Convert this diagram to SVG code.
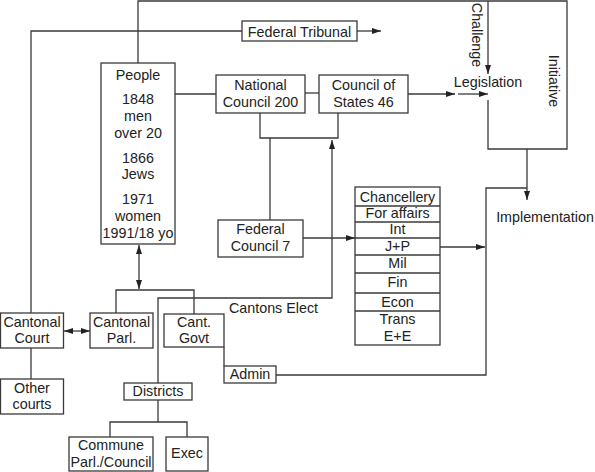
<svg xmlns="http://www.w3.org/2000/svg" width="595" height="472" viewBox="0 0 595 472">
<defs>
<marker id="ah" markerUnits="userSpaceOnUse" markerWidth="10" markerHeight="7" refX="9" refY="3.5" orient="auto-start-reverse"><path d="M0,0.5 L9,3.5 L0,6.5 z" fill="#222"/></marker>
<style>
rect{fill:#fff;stroke:#3a3a3a;stroke-width:1.3}
.c{fill:none;stroke:#3a3a3a;stroke-width:1.3}
.a{marker-end:url(#ah)}
.d{marker-start:url(#ah);marker-end:url(#ah)}
text{font-family:"Liberation Sans",Arial,sans-serif;font-size:14.3px;fill:#222;text-anchor:middle}
</style>
</defs>
<rect x="0" y="0" width="595" height="472" style="fill:#fff;stroke:none"/>
<g id="connectors">
<polyline class="c" points="138,63 138,1 567,1 567,149 488,149 488,100"/>
<line class="c a" x1="488" y1="1" x2="488" y2="74"/>
<polyline class="c" points="31,313 31,31 242,31"/>
<line class="c a" x1="357" y1="31" x2="381" y2="31"/>
<line class="c" x1="175" y1="94" x2="216" y2="94"/>
<line class="c" x1="305" y1="93" x2="319" y2="93"/>
<line class="c a" x1="408" y1="94" x2="455" y2="94"/>
<line class="c a" x1="458" y1="94" x2="488" y2="94"/>
<polyline class="c" points="260,113 260,138 338,138 338,113"/>
<line class="c" x1="270" y1="138" x2="270" y2="220"/>
<polyline class="c a" points="158,383 158,298 332,298 332,140"/>
<line class="c a" x1="303" y1="238" x2="355" y2="238"/>
<line class="c a" x1="440" y1="247" x2="485" y2="247"/>
<line class="c a" x1="527" y1="149" x2="527" y2="200"/>
<polyline class="c" points="527,188 486,188 486,375 276,375"/>
<line class="c d" x1="139" y1="245" x2="139" y2="289"/>
<polyline class="c" points="116,313 116,290 194,290 194,314"/>
<line class="c d" x1="64" y1="331" x2="90" y2="331"/>
<line class="c" x1="31" y1="348" x2="31" y2="379"/>
<line class="c" x1="224" y1="347" x2="224" y2="366"/>
<line class="c" x1="158" y1="400" x2="158" y2="422"/>
<polyline class="c" points="110,437 110,422 187,422 187,437"/>
</g>
<g id="people"><rect x="101" y="63" width="74" height="181"/>
<text x="138" y="80">People</text><text x="138" y="104">1848</text><text x="138" y="121">men</text><text x="138" y="138">over 20</text>
<text x="138" y="163">1866</text><text x="138" y="179">Jews</text><text x="138" y="204">1971</text><text x="138" y="221">women</text><text x="138" y="238">1991/18 yo</text></g>
<g id="federal-tribunal"><rect x="242" y="21" width="115" height="20"/><text x="299.5" y="37">Federal Tribunal</text></g>
<g id="national-council"><rect x="216" y="75" width="89" height="38"/><text x="260.5" y="90">National</text><text x="260.5" y="107">Council 200</text></g>
<g id="council-of-states"><rect x="319" y="75" width="89" height="38"/><text x="363.5" y="90">Council of</text><text x="363.5" y="107">States 46</text></g>
<g id="legislation"><text x="488" y="87">Legislation</text></g>
<g id="challenge"><text transform="translate(477,35) rotate(90)" y="5">Challenge</text></g>
<g id="initiative"><text transform="translate(554,81) rotate(90)" y="5">Initiative</text></g>
<g id="federal-council"><rect x="218" y="220" width="85" height="37"/><text x="260.5" y="234">Federal</text><text x="260.5" y="251">Council 7</text></g>
<g id="departments"><rect x="355" y="187" width="85" height="158"/>
<line class="c" x1="355" y1="206" x2="440" y2="206"/><line class="c" x1="355" y1="222" x2="440" y2="222"/><line class="c" x1="355" y1="238" x2="440" y2="238"/><line class="c" x1="355" y1="255" x2="440" y2="255"/><line class="c" x1="355" y1="273" x2="440" y2="273"/><line class="c" x1="355" y1="293" x2="440" y2="293"/><line class="c" x1="355" y1="311" x2="440" y2="311"/>
<text x="397.5" y="202">Chancellery</text><text x="397.5" y="218">For affairs</text><text x="397.5" y="234">Int</text><text x="397.5" y="251">J+P</text><text x="397.5" y="268">Mil</text><text x="397.5" y="287">Fin</text><text x="397.5" y="307">Econ</text><text x="397.5" y="324">Trans</text><text x="397.5" y="341">E+E</text></g>
<g id="implementation"><text x="545" y="222">Implementation</text></g>
<g id="cantons-elect"><text x="229" y="313" style="text-anchor:start">Cantons Elect</text></g>
<g id="cantonal-court"><rect x="0.5" y="313" width="63" height="35"/><text x="32" y="327">Cantonal</text><text x="32" y="343">Court</text></g>
<g id="other-courts"><rect x="0.5" y="379" width="63" height="35"/><text x="32" y="393">Other</text><text x="32" y="409">courts</text></g>
<g id="cantonal-parl"><rect x="90" y="313" width="63" height="35"/><text x="121.5" y="327">Cantonal</text><text x="121.5" y="343">Parl.</text></g>
<g id="cant-govt"><rect x="164" y="314" width="60" height="33"/><text x="194" y="327">Cant.</text><text x="194" y="343">Govt</text></g>
<g id="admin"><rect x="224" y="366" width="52" height="17"/><text x="250" y="379">Admin</text></g>
<g id="districts"><rect x="124" y="383" width="68" height="17"/><text x="158" y="396">Districts</text></g>
<g id="commune"><rect x="69" y="437" width="84" height="34"/><text x="111" y="450">Commune</text><text x="111" y="467">Parl./Council</text></g>
<g id="exec"><rect x="166" y="437" width="42" height="34"/><text x="187" y="458">Exec</text></g>
</svg>
